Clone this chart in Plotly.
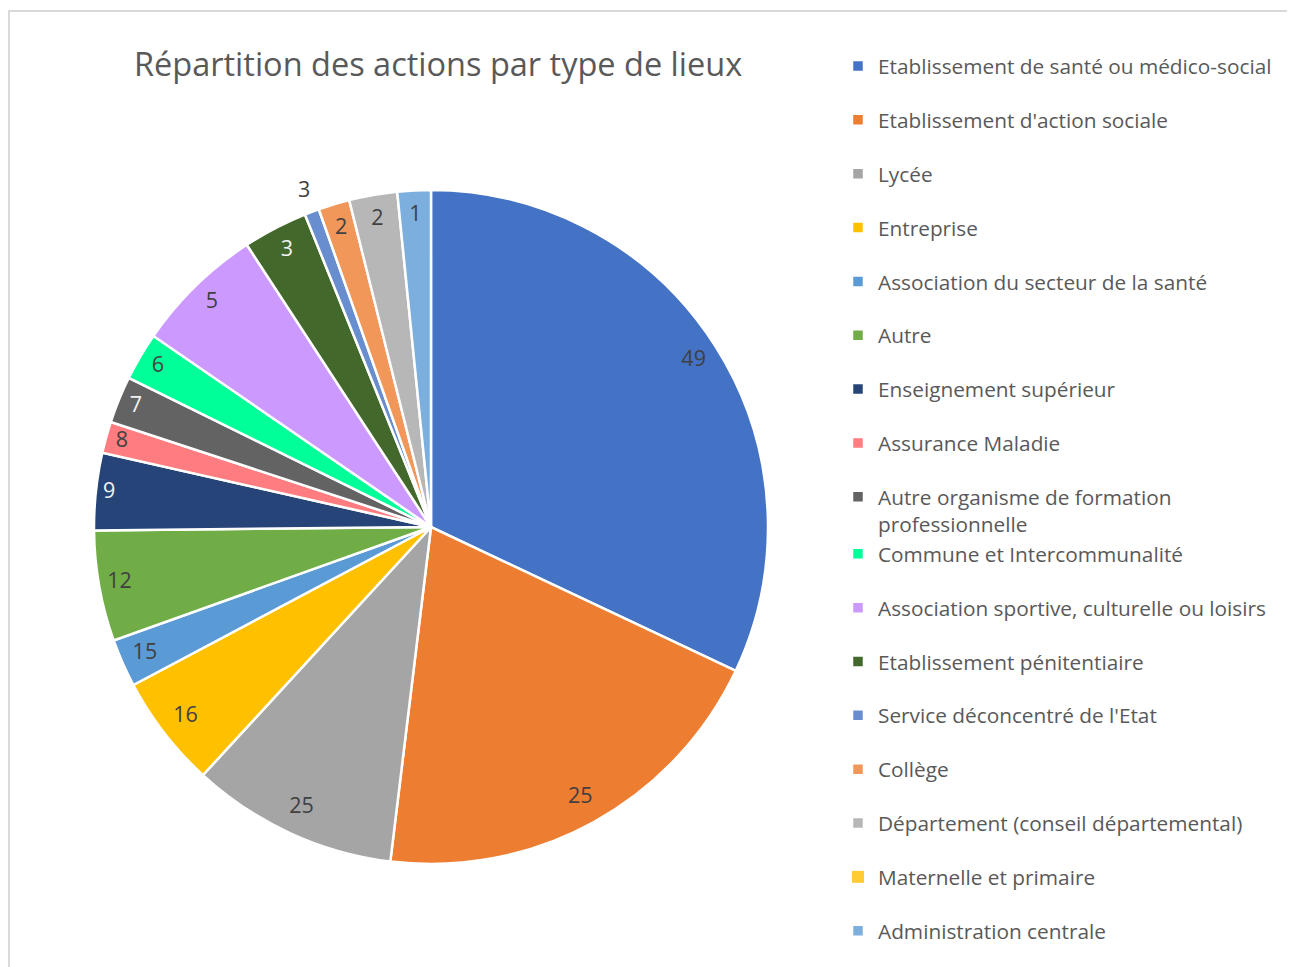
import plotly.graph_objects as go
import numpy as np

# ---------------- data ----------------
categories = [
    "Etablissement de santé ou médico-social",
    "Etablissement d'action sociale",
    "Lycée",
    "Entreprise",
    "Association du secteur de la santé",
    "Autre",
    "Enseignement supérieur",
    "Assurance Maladie",
    "Autre organisme de formation professionnelle",
    "Commune et Intercommunalité",
    "Association sportive, culturelle ou loisirs",
    "Etablissement pénitentiaire",
    "Service déconcentré de l'Etat",
    "Collège",
    "Département (conseil départemental)",
    "Maternelle et primaire",
    "Administration centrale",
]
# slice sizes (share of the circle, %)
slice_shares = [32.0, 19.9, 9.9, 5.4, 2.3, 5.3, 3.7, 1.5, 2.25, 2.3, 6.2, 3.1, 0.7, 1.5, 2.3, 0.0, 1.6]
# data labels printed on the slices
data_labels = ["49", "25", "25", "16", "15", "12", "9", "8", "7", "6", "5", "3", "3", "2", "2", "", "1"]

# ---------------- styles ----------------
colors = ["#4472C4", "#ED7D31", "#A5A5A5", "#FFC000", "#5B9BD5", "#70AD47", "#264478",
          "#FF7C80", "#636363", "#00FF99", "#CC99FF", "#43682B", "#698ED0", "#F1975A",
          "#B7B7B7", "#FFCD33", "#7CAFDD"]
FONT = "Open Sans"
TXT = "#595959"
W, H = 1295, 967
OFF = 8  # page body margin

def px_x(x):
    return (x - OFF) / W

def px_y(y):
    return 1 - (y - OFF) / H

CX, CY, R_PX = 431, 527, 337     # pie centre / radius on the page
R_MAX = 1.12                      # radial axis extent (room for outside labels)
RD = R_PX * R_MAX
dom_x = [px_x(CX - RD), px_x(CX + RD)]
dom_y = [px_y(CY + RD), px_y(CY - RD)]

legend_names = []
for c in categories:
    if c == "Autre organisme de formation professionnelle":
        legend_names.append("Autre organisme de formation<br>professionnelle")
    else:
        legend_names.append(c)

legend_groups = []
for i, c in enumerate(categories):
    if c == "Commune et Intercommunalité":
        legend_groups.append(legend_groups[-1])
    else:
        legend_groups.append("g%d" % i)

def lum(hexc):
    r, g, b = int(hexc[1:3], 16), int(hexc[3:5], 16), int(hexc[5:7], 16)
    return 0.299 * r + 0.587 * g + 0.114 * b

vals = np.array(slice_shares, dtype=float)
total = vals.sum()
cum = np.cumsum(vals)
mid_theta = (cum - vals / 2) / total * 360.0
span = vals / total * 360.0

fig = go.Figure()
for name, grp, t, s, col in zip(legend_names, legend_groups, mid_theta, span, colors):
    fig.add_trace(go.Barpolar(
        r=[1], theta=[t], width=[s], base=[0],
        name=name, legendgroup=grp,
        marker=dict(color=col, line=dict(color="white", width=2.5 if s > 0 else 0)),
        hoverinfo="name",
    ))

# label placement: inside end, offset by label box projection
lab_theta, lab_r, lab_text, lab_col = [], [], [], []
for t, s, txt, col in zip(mid_theta, span, data_labels, colors):
    if not txt:
        continue
    lab_text.append(txt)
    lab_theta.append(t)
    a = np.radians(t)
    if s < 4:
        lab_r.append((R_PX + 22) / R_PX)
        lab_col.append("#404040")
    else:
        d = 5 + 6.2 * len(txt) * abs(np.sin(a)) + 19.7 * abs(np.cos(a))
        lab_r.append((R_PX - d) / R_PX)
        lab_col.append("#F2F2F2" if lum(col) < 105 else "#404040")

fig.add_trace(go.Scatterpolar(
    r=lab_r, theta=lab_theta, text=lab_text, mode="text",
    textfont=dict(family=FONT, size=21.5, color=lab_col),
    cliponaxis=False, showlegend=False, hoverinfo="skip",
))

fig.update_layout(
    width=W, height=H,
    margin=dict(l=0, r=0, t=0, b=0),
    paper_bgcolor="white",
    font=dict(family=FONT, color=TXT),
    polar=dict(
        domain=dict(x=dom_x, y=dom_y),
        bgcolor="rgba(0,0,0,0)",
        angularaxis=dict(visible=False, rotation=90, direction="clockwise"),
        radialaxis=dict(visible=False, range=[0, R_MAX]),
    ),
    legend=dict(
        x=px_x(838), xanchor="left",
        y=px_y(46), yanchor="top",
        font=dict(family=FONT, size=20.8, color=TXT),
        valign="top",
        tracegroupgap=23.8,
        bgcolor="rgba(0,0,0,0)",
    ),
    annotations=[dict(
        text="Répartition des actions par type de lieux",
        x=px_x(437.5), y=px_y(64), xref="paper", yref="paper",
        xanchor="center", yanchor="middle", showarrow=False,
        font=dict(family=FONT, size=32.5, color=TXT),
    )],
    shapes=[dict(
        type="rect", xref="paper", yref="paper",
        x0=px_x(9), x1=1.05, y0=-0.05, y1=px_y(11),
        line=dict(color="#D9D9D9", width=2), fillcolor="rgba(0,0,0,0)", layer="below",
    )],
)

fig.write_html("out.html")
